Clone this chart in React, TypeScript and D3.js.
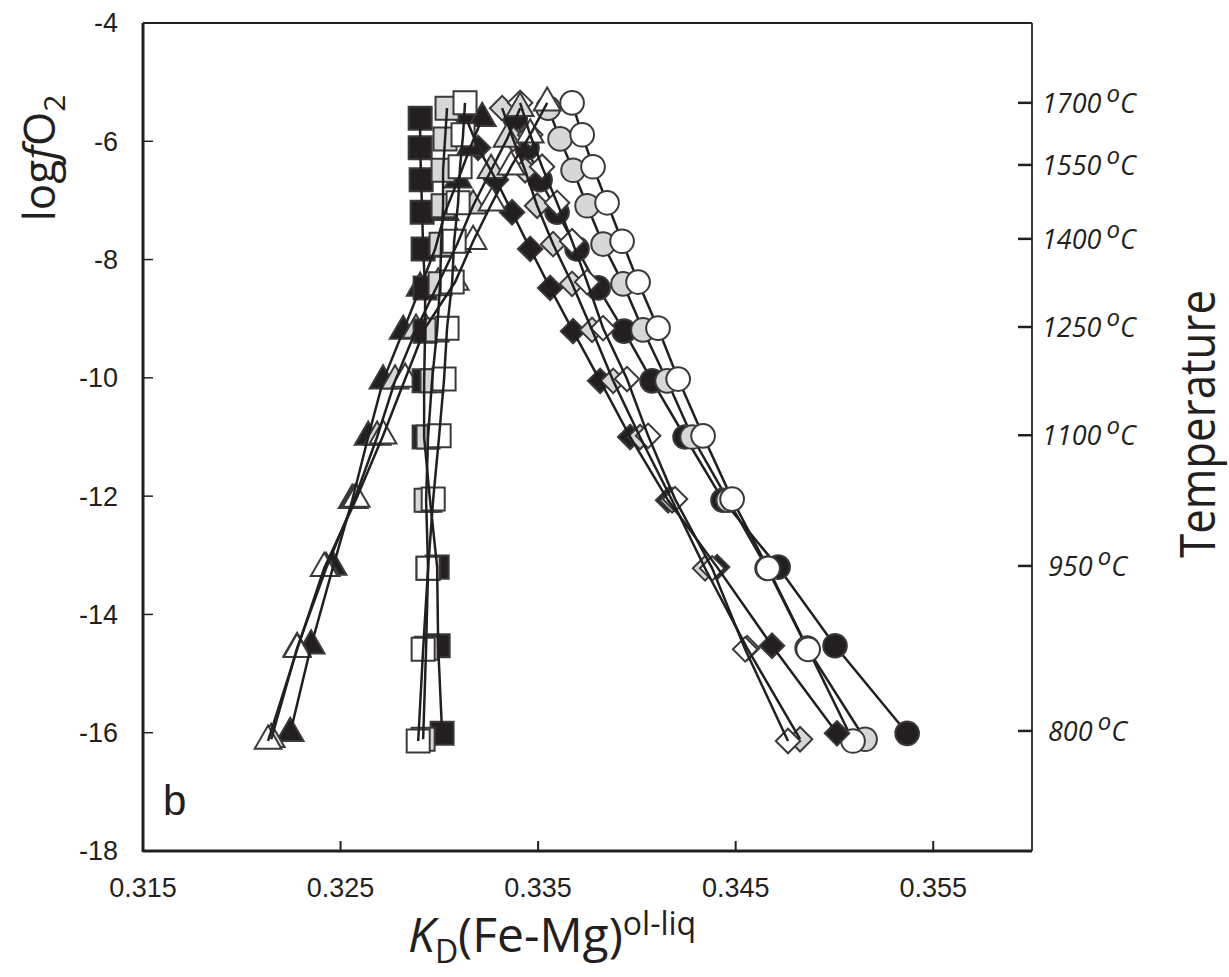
import React from "react";
import * as d3 from "d3";

// ---------- data ----------
const xTickValues = [0.315, 0.325, 0.335, 0.345, 0.355];
const yTickValues = [-4, -6, -8, -10, -12, -14, -16, -18];
const temperatureLabels = ["1700", "1550", "1400", "1250", "1100", "950", "800"];
const temperatureLogfO2 = [-5.35, -6.4, -7.65, -9.14, -10.97, -13.18, -15.97];

// log fO2 of the 13 calculated points (1700 -> 800 °C, 75 °C steps), per marker shade
const logfO2Black = [-5.61, -6.11, -6.65, -7.2, -7.82, -8.48, -9.21, -10.05, -11.0, -12.07, -13.2, -14.53, -16.01];
const logfO2Grey = [-5.44, -5.96, -6.49, -7.09, -7.74, -8.41, -9.19, -10.05, -11.0, -12.07, -13.22, -14.57, -16.11];
const logfO2White = [-5.35, -5.89, -6.43, -7.04, -7.69, -8.38, -9.16, -10.02, -10.98, -12.05, -13.22, -14.59, -16.14];

const kdSquareBlack = [0.32903, 0.32903, 0.32908, 0.32913, 0.32918, 0.32928, 0.32928, 0.32923, 0.32923, 0.32953, 0.32989, 0.32994, 0.33014];
const kdSquareGrey = [0.33039, 0.33029, 0.33019, 0.33019, 0.33009, 0.33004, 0.32989, 0.32963, 0.32943, 0.32933, 0.32943, 0.32933, 0.32918];
const kdSquareWhite = [0.3313, 0.3312, 0.33105, 0.33095, 0.33075, 0.33065, 0.33039, 0.33024, 0.32999, 0.32969, 0.32943, 0.32918, 0.32893];

const kdTriangleBlack = [0.33217, 0.33156, 0.33095, 0.33029, 0.32979, 0.32903, 0.32817, 0.32715, 0.3264, 0.32559, 0.32462, 0.32351, 0.32245];
const kdTriangleGrey = [0.33409, 0.33343, 0.33262, 0.33171, 0.3309, 0.32994, 0.32882, 0.32776, 0.32685, 0.32569, 0.32427, 0.3228, 0.32149];
const kdTriangleWhite = [0.33546, 0.3346, 0.33363, 0.33267, 0.33171, 0.3308, 0.32928, 0.32827, 0.32715, 0.32579, 0.32417, 0.3228, 0.32133];

const kdDiamondBlack = [0.33136, 0.33196, 0.33287, 0.33368, 0.3346, 0.33561, 0.33677, 0.33814, 0.33966, 0.34158, 0.34406, 0.34684, 0.35013];
const kdDiamondGrey = [0.33318, 0.33373, 0.33434, 0.33495, 0.33576, 0.33672, 0.33773, 0.3388, 0.34016, 0.34178, 0.34345, 0.34558, 0.34826];
const kdDiamondWhite = [0.33409, 0.3346, 0.3352, 0.33596, 0.33672, 0.33748, 0.33829, 0.3395, 0.34057, 0.34193, 0.34381, 0.34548, 0.34765];

const kdCircleBlack = [0.33384, 0.33444, 0.3351, 0.33596, 0.33697, 0.33804, 0.33935, 0.34077, 0.34244, 0.34436, 0.34715, 0.35003, 0.35368];
const kdCircleGrey = [0.33551, 0.33611, 0.33677, 0.33748, 0.33829, 0.3393, 0.34031, 0.34153, 0.3428, 0.34462, 0.34659, 0.34862, 0.35155];
const kdCircleWhite = [0.33672, 0.33723, 0.33778, 0.33849, 0.33925, 0.34006, 0.34107, 0.34209, 0.34335, 0.34482, 0.34664, 0.34867, 0.35094];

type Shape = "circle" | "diamond" | "triangle" | "square";
type Shade = "black" | "grey" | "white";

const seriesList: { shape: Shape; shade: Shade; kd: number[]; logfO2: number[] }[] = [
  { shape: "circle", shade: "black", kd: kdCircleBlack, logfO2: logfO2Black },
  { shape: "circle", shade: "grey", kd: kdCircleGrey, logfO2: logfO2Grey },
  { shape: "circle", shade: "white", kd: kdCircleWhite, logfO2: logfO2White },
  { shape: "diamond", shade: "black", kd: kdDiamondBlack, logfO2: logfO2Black },
  { shape: "diamond", shade: "grey", kd: kdDiamondGrey, logfO2: logfO2Grey },
  { shape: "diamond", shade: "white", kd: kdDiamondWhite, logfO2: logfO2White },
  { shape: "triangle", shade: "black", kd: kdTriangleBlack, logfO2: logfO2Black },
  { shape: "triangle", shade: "grey", kd: kdTriangleGrey, logfO2: logfO2Grey },
  { shape: "triangle", shade: "white", kd: kdTriangleWhite, logfO2: logfO2White },
  { shape: "square", shade: "black", kd: kdSquareBlack, logfO2: logfO2Black },
  { shape: "square", shade: "grey", kd: kdSquareGrey, logfO2: logfO2Grey },
  { shape: "square", shade: "white", kd: kdSquareWhite, logfO2: logfO2White },
];

// ---------- styling ----------
const INK = "#231f20";
const fills: Record<Shade, string> = { black: "#231f20", grey: "#d6d7d8", white: "#ffffff" };
const symbolPaths: Record<Shape, string> = {
  circle: d3.symbol().type(d3.symbolCircle).size(440)() as string,
  square: d3.symbol().type(d3.symbolSquare).size(530)() as string,
  triangle: d3.symbol().type(d3.symbolTriangle).size(310)() as string,
  diamond: d3.symbol().type(d3.symbolSquare).size(300)() as string,
};

const W = 1229;
const H = 977;
const left = 143;
const right = 1032;
const top = 23;
const bottom = 851;

export default function App() {
  const x = d3.scaleLinear().domain([0.315, 0.36]).range([left, right]);
  const y = d3.scaleLinear().domain([-4, -18]).range([top, bottom]);
  const line = d3
    .line<[number, number]>()
    .x((d) => x(d[0]))
    .y((d) => y(d[1]));

  const sans = "'Liberation Sans', Arial, sans-serif";
  const myriad = "'Open Sans', 'Noto Sans', sans-serif";

  const markerGroup = (s: (typeof seriesList)[number], si: number) => (
    <g key={"m" + si}>
      {s.kd.map((kd, i) => (
        <path
          key={i}
          d={symbolPaths[s.shape]}
          transform={`translate(${x(kd)},${y(s.logfO2[i])})${s.shape === "diamond" ? " rotate(45)" : ""}`}
          fill={fills[s.shade]}
          stroke="#3a3a3a"
          strokeWidth={2}
        />
      ))}
    </g>
  );
  const linePath = (s: (typeof seriesList)[number], si: number) => (
    <path
      key={"l" + si}
      d={line(s.kd.map((kd, i) => [kd, s.logfO2[i]] as [number, number])) as string}
      fill="none"
      stroke={INK}
      strokeWidth={2.5}
    />
  );

  const circles = seriesList.filter((s) => s.shape === "circle");
  const others = seriesList.filter((s) => s.shape !== "circle");

  return (
    <svg
      width={W}
      height={H}
      viewBox={`0 0 ${W} ${H}`}
      style={{ position: "absolute", left: 0, top: 0, background: "#fff" }}
    >
      <rect x={0} y={0} width={W} height={H} fill="#fff" />

      {/* circle series: lines under markers */}
      <g>{circles.map(linePath)}</g>
      <g>{circles.map(markerGroup)}</g>
      {/* other series: markers, then lines on top */}
      <g>{others.map(markerGroup)}</g>
      <g>{others.map(linePath)}</g>

      {/* frame */}
      <line x1={left} x2={right} y1={top} y2={top} stroke={INK} strokeWidth={2} />
      <line x1={right} x2={right} y1={top} y2={bottom} stroke="#3a3a3a" strokeWidth={2} />
      <line x1={left} x2={left} y1={top} y2={bottom + 1} stroke={INK} strokeWidth={3} />
      <line x1={left} x2={right} y1={bottom} y2={bottom} stroke={INK} strokeWidth={3} />

      {/* y axis */}
      {yTickValues.map((v) => (
        <g key={"y" + v}>
          <line x1={left} x2={left + 10} y1={y(v)} y2={y(v)} stroke={INK} strokeWidth={1.5} />
          <text
            x={118}
            y={y(v)}
            dy="0.35em"
            textAnchor="end"
            fontFamily={sans}
            fontSize={27}
            fill={INK}
          >
            {v}
          </text>
        </g>
      ))}

      {/* x axis */}
      {xTickValues.map((v) => (
        <g key={"x" + v}>
          <line x1={x(v)} x2={x(v)} y1={bottom} y2={bottom - 10} stroke={INK} strokeWidth={2} />
          <text x={x(v)} y={897} textAnchor="middle" fontFamily={sans} fontSize={27} fill={INK}>
            {d3.format(".3f")(v)}
          </text>
        </g>
      ))}

      {/* temperature axis */}
      {temperatureLabels.map((t, i) => (
        <g key={"t" + t}>
          <line
            x1={right - 14}
            x2={right}
            y1={y(temperatureLogfO2[i])}
            y2={y(temperatureLogfO2[i])}
            stroke={INK}
            strokeWidth={2.5}
          />
          <text
            x={t.length === 4 ? 1042 : 1048}
            y={y(temperatureLogfO2[i]) + 10}
            fontFamily={myriad}
            fontStyle="italic"
            fontSize={27}
            fill={INK}
          >
            {t}
            <tspan dx={5} dy={-11} fontSize={24}>o</tspan>
            <tspan dy={11}>C</tspan>
          </text>
        </g>
      ))}

      {/* panel letter */}
      <text x={163} y={815} fontFamily={sans} fontSize={42} fill={INK}>
        b
      </text>

      {/* x title */}
      <text x={408} y={952} fontFamily={myriad} fontSize={48} fill={INK}>
        <tspan fontStyle="italic">K</tspan>
        <tspan fontSize={32} dy={11}>D</tspan>
        <tspan dy={-11}>(Fe-Mg)</tspan>
        <tspan fontSize={32} dy={-17}>ol-liq</tspan>
      </text>

      {/* y title */}
      <text
        transform="translate(55,158) rotate(-90)"
        textAnchor="middle"
        fontFamily={myriad}
        fontSize={44}
        fill={INK}
      >
        <tspan>log</tspan>
        <tspan fontStyle="italic">f</tspan>
        <tspan>O</tspan>
        <tspan fontSize={30} dy={10}>2</tspan>
      </text>

      {/* right title */}
      <text
        transform="translate(1215,424) rotate(-90)"
        textAnchor="middle"
        fontFamily={myriad}
        fontSize={50}
        textLength={268}
        lengthAdjust="spacingAndGlyphs"
        fill={INK}
      >
        Temperature
      </text>
    </svg>
  );
}
